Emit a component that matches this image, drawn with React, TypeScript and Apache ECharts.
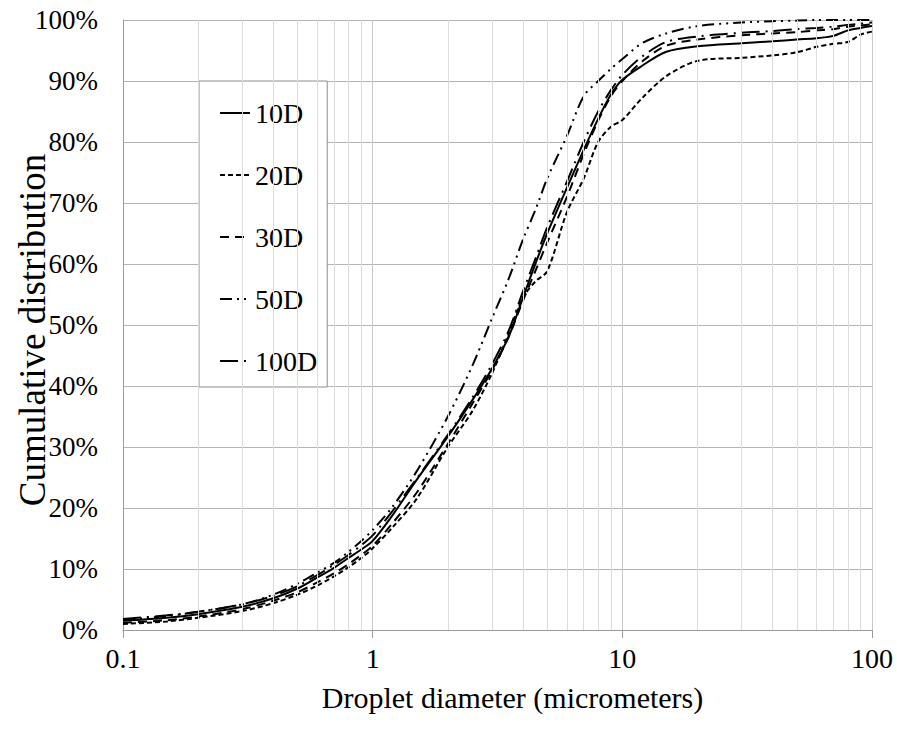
import React, { useEffect, useRef } from "react";
import * as echarts from "echarts";

const diameters = [0.1, 0.15, 0.2, 0.3, 0.4, 0.5, 0.6, 0.7, 0.8, 0.9, 1, 1.2, 1.5, 2, 2.5, 3, 3.5, 4, 4.5, 5, 6, 7, 8, 9, 10, 12, 15, 20, 30, 40, 50, 60, 70, 80, 90, 100];
const cum10D = [1.5, 2.0, 2.6, 3.8, 5.2, 6.8, 8.6, 10.2, 11.8, 13.2, 14.6, 18.8, 24.6, 31.7, 37.6, 42.8, 48.0, 54.5, 60.2, 65.0, 72.5, 78.7, 83.8, 87.8, 90.2, 92.5, 94.8, 95.7, 96.2, 96.5, 96.8, 97.0, 97.4, 98.3, 98.7, 99.0];
const cum20D = [1.0, 1.4, 2.0, 3.1, 4.4, 5.8, 7.3, 8.8, 10.3, 11.8, 13.4, 16.8, 21.5, 30.0, 35.8, 42.0, 48.5, 54.5, 57.2, 58.8, 68.5, 74.0, 80.0, 82.5, 83.6, 87.2, 90.8, 93.3, 93.8, 94.2, 94.7, 95.6, 96.1, 96.4, 97.6, 98.1];
const cum30D = [1.2, 1.6, 2.2, 3.4, 4.8, 6.2, 7.8, 9.3, 10.8, 12.3, 13.8, 17.5, 22.5, 30.5, 37.0, 42.5, 48.0, 54.0, 59.0, 63.5, 71.0, 78.0, 83.5, 87.5, 90.0, 93.2, 95.8, 96.8, 97.5, 97.8, 98.0, 98.3, 98.5, 98.9, 99.1, 99.3];
const cum50D = [1.7, 2.3, 3.0, 4.2, 5.8, 7.6, 9.4, 11.0, 12.8, 14.6, 16.4, 20.2, 26.0, 35.0, 43.2, 51.0, 57.5, 64.0, 69.0, 74.0, 81.0, 87.5, 90.0, 92.0, 93.6, 96.2, 97.8, 99.0, 99.6, 99.8, 99.9, 100, 100, 100, 100, 100];
const cum100D = [1.8, 2.4, 3.0, 4.2, 5.6, 7.2, 9.0, 10.7, 12.3, 13.9, 15.5, 19.5, 24.8, 32.0, 38.0, 43.5, 49.0, 55.5, 61.0, 66.0, 73.5, 80.0, 85.0, 88.5, 91.0, 94.0, 96.4, 97.3, 97.9, 98.2, 98.5, 98.7, 98.9, 99.2, 99.4, 99.6];

const seriesNames = ["10D", "20D", "30D", "50D", "100D"];
const xTickValues = [0.1, 1, 10, 100];
const xTickLabels = ["0.1", "1", "10", "100"];
const minorXValues = [0.2, 0.3, 0.4, 0.5, 0.6, 0.7, 0.8, 0.9, 2, 3, 4, 5, 6, 7, 8, 9, 20, 30, 40, 50, 60, 70, 80, 90];
const yTitle = "Cumulative distribution";
const xTitle = "Droplet diameter (micrometers)";

const FONT = "Liberation Serif";

export default function App() {
  const ref = useRef<HTMLDivElement>(null);
  useEffect(() => {
    if (!ref.current) return;
    const chart = echarts.init(ref.current, null, { renderer: "svg" });
    const values = [cum10D, cum20D, cum30D, cum50D, cum100D];
    const dashes: any[] = ["solid", [5, 3], [9, 6], [12, 5, 2, 5, 2, 5], [18, 6, 2, 6]];
    const series: any[] = values.map((vals, k) => ({
      name: seriesNames[k],
      type: "line",
      data: diameters.map((d, i) => [d, vals[i]]),
      showSymbol: false,
      symbol: "none",
      smooth: 0.3,
      z: 3,
      lineStyle: { color: "#000", width: 2, type: dashes[k] },
      itemStyle: { color: "#000" },
    }));
    series.unshift({
      name: "minor",
      type: "line",
      data: [],
      z: 1,
      silent: true,
      markLine: {
        silent: true,
        symbol: ["none", "none"],
        label: { show: false },
        lineStyle: { color: "#dcdcdc", type: "solid", width: 1 },
        data: minorXValues.map((v) => ({ xAxis: v })),
      },
    });
    chart.setOption({
      animation: false,
      backgroundColor: "#fff",
      textStyle: { fontFamily: FONT },
      grid: { left: 123, right: 25, top: 20, bottom: 101, containLabel: false, outerBoundsMode: "none" },
      graphic: [
        {
          type: "text",
          x: 32,
          y: 330,
          rotation: Math.PI / 2,
          style: {
            text: yTitle,
            fontFamily: FONT,
            fontSize: 37,
            fill: "#000",
            align: "center",
            verticalAlign: "middle",
            textAlign: "center",
            textVerticalAlign: "middle",
          },
        },
      ],
      legend: {
        data: seriesNames,
        orient: "vertical",
        left: 199,
        top: 81,
        padding: [17, 10, 11, 20],
        itemGap: 32,
        itemWidth: 30,
        itemHeight: 14,
        backgroundColor: "#fff",
        borderColor: "#8c8c8c",
        borderWidth: 1,
        borderRadius: 0,
        itemStyle: { opacity: 0, borderWidth: 0 },
        textStyle: { fontFamily: FONT, fontSize: 28, color: "#000", lineHeight: 30 },
        selectedMode: false,
      },
      xAxis: {
        type: "log",
        logBase: 10,
        min: 0.1,
        max: 100,
        name: xTitle,
        nameLocation: "middle",
        nameGap: 52,
        nameTextStyle: { fontFamily: FONT, fontSize: 30, color: "#000", padding: [0, 0, 0, 30] },
        axisLine: { show: true, lineStyle: { color: "#9a9a9a", width: 1 } },
        axisTick: { show: true, length: 8, lineStyle: { color: "#9a9a9a" } },
        axisLabel: {
          margin: 14,
          fontFamily: FONT,
          fontSize: 28,
          color: "#000",
          formatter: (v: number) => {
            let best = 0;
            xTickValues.forEach((t, i) => {
              if (Math.abs(Math.log10(t) - Math.log10(v)) < Math.abs(Math.log10(xTickValues[best]) - Math.log10(v))) best = i;
            });
            return xTickLabels[best];
          },
        },
        splitLine: { show: true, lineStyle: { color: "#c8c8c8", width: 1 } },
        minorTick: { show: false },
      },
      yAxis: {
        type: "value",
        min: 0,
        max: 100,
        interval: 10,
        axisLine: { show: true, lineStyle: { color: "#9a9a9a", width: 1 } },
        axisTick: { show: false },
        axisLabel: {
          margin: 25,
          fontFamily: FONT,
          fontSize: 27,
          color: "#000",
          padding: [8, 0, 0, 0],
          formatter: "{value}%",
        },
        splitLine: { show: true, lineStyle: { color: "#b4b4b4", width: 1 } },
      },
      series,
    });
    return () => chart.dispose();
  }, []);
  return <div ref={ref} style={{ width: 897, height: 731, position: "absolute", left: 0, top: 0 }} />;
}
